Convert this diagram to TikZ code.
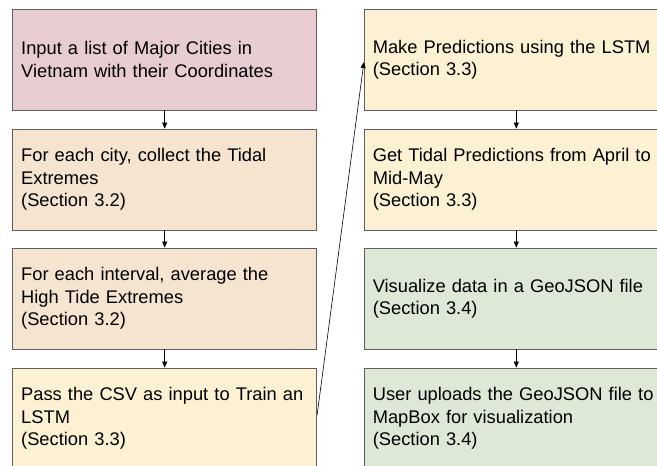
\documentclass[tikz,border=0pt]{standalone}
\usepackage{fontspec}
\setmainfont{Liberation Sans}
\usetikzlibrary{arrows.meta}
\definecolor{bordergray}{HTML}{5E5E5E}
\definecolor{fillpink}{HTML}{E7CDD1}
\definecolor{fillorange}{HTML}{F5E4CF}
\definecolor{fillyellow}{HTML}{FCF1D3}
\definecolor{fillgreen}{HTML}{DDE8D6}
\tikzset{
  stepbox/.style={draw=bordergray, line width=0.8pt, minimum width=304pt, minimum height=101pt,
    text width=287pt, inner xsep=8.5pt, inner ysep=0pt, align=left,
    font=\fontsize{18.3}{22.3}\selectfont, text=black},
  flow/.style={draw=black, line width=0.6pt, -{Triangle[length=6pt,width=5pt]}}
}
\begin{document}
\begin{tikzpicture}[x=1pt,y=-1pt]
\clip (0,0) rectangle (657,466);
\fill[white] (0,0) rectangle (657,466);
\node[stepbox, fill=fillpink] (a1) at (164.7,59.5) {Input a list of Major Cities in\\Vietnam with their Coordinates};
\node[stepbox, fill=fillorange] (a2) at (164.7,179.5) {For each city, collect the Tidal\\Extremes\\(Section 3.2)};
\node[stepbox, fill=fillorange] (a3) at (164.7,298.5) {For each interval, average the\\High Tide Extremes\\(Section 3.2)};
\node[stepbox, fill=fillyellow] (a4) at (164.7,418.5) {Pass the CSV as input to Train an\\LSTM\\(Section 3.3)};
\node[stepbox, fill=fillyellow] (b1) at (516.3,59.5) {Make Predictions using the LSTM\\(Section 3.3)};
\node[stepbox, fill=fillyellow] (b2) at (516.3,179.5) {Get Tidal Predictions from April to\\Mid-May\\(Section 3.3)};
\node[stepbox, fill=fillgreen] (b3) at (516.3,298.5) {Visualize data in a GeoJSON file\\(Section 3.4)};
\node[stepbox, fill=fillgreen] (b4) at (516.3,418.5) {User uploads the GeoJSON file to\\MapBox for visualization\\(Section 3.4)};
\draw[flow] (a1) -- (a2);
\draw[flow] (a2) -- (a3);
\draw[flow] (a3) -- (a4);
\draw[flow] ([yshift=3.5pt]a4.east) -- ([yshift=-2.5pt]b1.west);
\draw[flow] (b1) -- (b2);
\draw[flow] (b2) -- (b3);
\draw[flow] (b3) -- (b4);
\end{tikzpicture}
\end{document}
